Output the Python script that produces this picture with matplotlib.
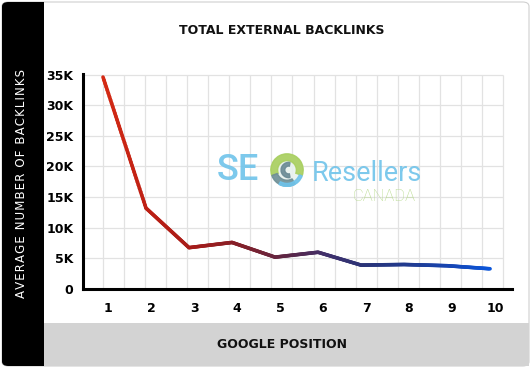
import numpy as np
import matplotlib
matplotlib.use("Agg")
import matplotlib.pyplot as plt
from matplotlib.collections import LineCollection
from matplotlib.colors import LinearSegmentedColormap
from matplotlib.patches import FancyBboxPatch, Rectangle, Wedge, Circle
from matplotlib.transforms import ScaledTranslation

# data
positions = [1, 2, 3, 4, 5, 6, 7, 8, 9, 10]
backlinks = [34600, 13200, 6750, 7600, 5200, 6000, 3900, 4000, 3800, 3300]
y_ticks = [0, 5000, 10000, 15000, 20000, 25000, 30000, 35000]
y_labels = ["0", "5K", "10K", "15K", "20K", "25K", "30K", "35K"]

W, H = 532, 368
fig = plt.figure(figsize=(W / 100, H / 100), dpi=100)
fig.patch.set_facecolor("white")

# card background: black side band, white panel, grey footer
card = FancyBboxPatch((2 / W, 2 / H), 527 / W, 364 / H,
                      boxstyle="round,pad=0,rounding_size=0.012",
                      transform=fig.transFigure, facecolor="white",
                      edgecolor="#d0d0d0", lw=0.8, zorder=-5)
fig.patches.append(card)
fig.patches.append(Rectangle((44 / W, 2 / H), 485 / W, 43 / H, transform=fig.transFigure,
                             facecolor="#d3d3d3", edgecolor="none", zorder=-4))
band = FancyBboxPatch((2 / W, 2 / H), 42 / W, 364 / H,
                      boxstyle="round,pad=0,rounding_size=0.012",
                      transform=fig.transFigure, facecolor="black",
                      edgecolor="none", zorder=-3)
fig.patches.append(band)
fig.patches.append(Rectangle((30 / W, 2 / H), 14 / W, 364 / H, transform=fig.transFigure,
                             facecolor="black", edgecolor="none", zorder=-3))

ax = fig.add_axes([83 / W, 1 - 289 / H, (512 - 83) / W, (289 - 74) / H])
ax.set_facecolor("none")
ax.set_xlim(0.535, 10.51)
ax.set_ylim(0, 35100)

# grid
gx = np.linspace(1, 10.3, 20)
ax.vlines(gx, 0, 35000, color="#e2e2e2", lw=0.9, zorder=1)
ax.hlines(y_ticks[1:], 0.535, 10.3, color="#e2e2e2", lw=0.9, zorder=1)

# gradient line red -> blue
cmap = LinearSegmentedColormap.from_list("rb", [
    (0.0, "#d42a14"), (0.12, "#bc1f14"), (0.24, "#a41c1a"), (0.36, "#82202a"),
    (0.48, "#5c2646"), (0.58, "#40306c"), (0.68, "#2a3478"), (0.8, "#213c92"),
    (0.9, "#1746b4"), (1.0, "#0a55da")])
xs, ys = [], []
for i in range(len(positions) - 1):
    t = np.linspace(0, 1, 40, endpoint=False)
    xs.extend(positions[i] + t * (positions[i + 1] - positions[i]))
    ys.extend(backlinks[i] + t * (backlinks[i + 1] - backlinks[i]))
xs.append(positions[-1])
ys.append(backlinks[-1])
pts = np.column_stack([xs, ys]).reshape(-1, 1, 2)
segs = np.concatenate([pts[:-1], pts[1:]], axis=1)
lc = LineCollection(segs, cmap=cmap, linewidths=2.6, capstyle="round", joinstyle="round", zorder=3)
lc.set_array((np.array(xs[:-1]) - 1) / 9)
lc.set_clim(0, 1)
ax.add_collection(lc)

for s in ["top", "right"]:
    ax.spines[s].set_visible(False)
for s in ["left", "bottom"]:
    ax.spines[s].set_linewidth(2.2)
    ax.spines[s].set_color("black")

ax.set_yticks(y_ticks)
ax.set_yticklabels(y_labels, fontsize=9, fontweight="heavy")
ax.set_xticks(positions)
ax.set_xticklabels([str(p) for p in positions], fontsize=9, fontweight="heavy")
ax.tick_params(length=0)
ax.tick_params(axis="y", pad=7)
ax.tick_params(axis="x", pad=9)
for lab in ax.get_xticklabels():
    lab.set_transform(lab.get_transform() + ScaledTranslation(5 / 100, 0, fig.dpi_scale_trans))

fig.text(282 / W, 1 - 31 / H, "TOTAL EXTERNAL BACKLINKS", ha="center", va="center",
         fontsize=9, fontweight="heavy", color="#111111")
fig.text(282 / W, 1 - 344 / H, "GOOGLE POSITION", ha="center", va="center",
         fontsize=9, fontweight="heavy", color="#111111")
ylab = "\u200a".join("AVERAGE NUMBER OF BACKLINKS")
fig.text(22 / W, 1 - 184 / H, ylab, ha="center", va="center", rotation=90,
         fontsize=8.5, color="white")

# watermark logo (the O of SEO is the round emblem)
fig.text(217 / W, 1 - 180 / H, "SE", ha="left", va="baseline", fontsize=26,
         family="Roboto", fontweight="medium", color="#6fc3ea", alpha=0.9, zorder=5)
fig.text(312 / W, 1 - 181 / H, "Resellers", ha="left", va="baseline", fontsize=19.5,
         family="Roboto", fontweight="normal", color="#6fc3ea", alpha=0.9, zorder=5)
fig.text(353 / W, 1 - 201 / H, "CANADA", ha="left", va="baseline", fontsize=12,
         family="Roboto", fontweight="light", color="#b5d98a", alpha=0.95, zorder=5)
lax = fig.add_axes([270 / W, 1 - 187 / H, 34 / W, 34 / H])
lax.set_xlim(-1, 1)
lax.set_ylim(-1, 1)
lax.set_aspect("equal")
lax.axis("off")
lax.add_patch(Circle((0, 0), 0.95, color="#e8f2ee", alpha=0.9))
lax.add_patch(Wedge((0, 0), 0.95, -20, 200, width=0.4, color="#a9cf5e", alpha=0.9))
lax.add_patch(Wedge((0, 0), 0.95, 200, 300, width=0.35, color="#6f8f96", alpha=0.9))
lax.add_patch(Wedge((0, -0.02), 0.95, 240, 340, width=0.18, color="#6fc3ea", alpha=0.9))
lax.add_patch(Wedge((0.1, 0.0), 0.45, 80, 280, width=0.22, color="#6a8a94", alpha=0.9))

fig.savefig("out.png", dpi=100)
